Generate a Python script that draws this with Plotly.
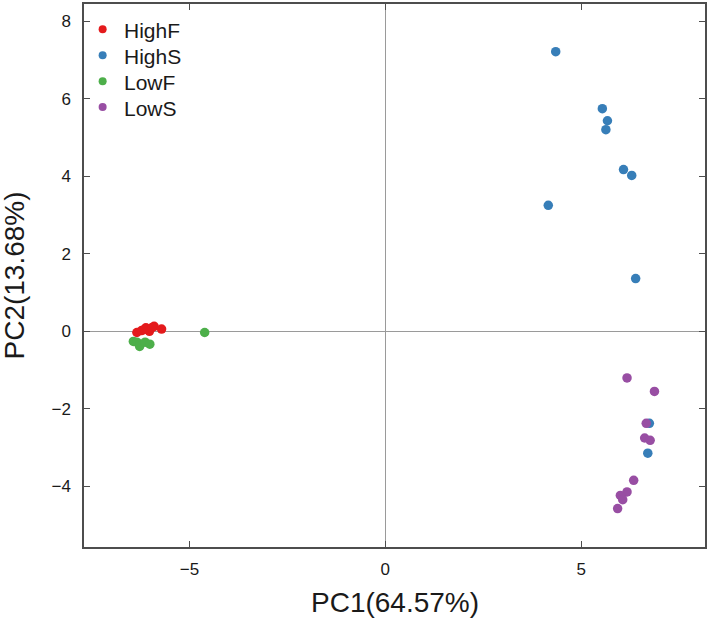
import plotly.graph_objects as go

# ---- data ----
groups = ["HighF", "HighS", "LowF", "LowS"]
colors = ["#E41A1C", "#377EB8", "#4DAF4A", "#984EA3"]

highf_x = [-6.34, -6.22, -6.11, -6.02, -5.90, -5.71, -6.15, -5.95]
highf_y = [-0.03, 0.02, 0.09, 0.00, 0.13, 0.06, 0.05, 0.10]

highs_x = [4.35, 5.54, 5.67, 5.63, 6.08, 6.29, 4.16, 6.39, 6.74, 6.70]
highs_y = [7.21, 5.74, 5.43, 5.20, 4.17, 4.02, 3.25, 1.36, -2.37, -3.14]

lowf_x = [-6.43, -6.34, -6.26, -6.27, -6.13, -6.01, -4.61]
lowf_y = [-0.26, -0.28, -0.33, -0.39, -0.28, -0.33, -0.03]

lows_x = [6.17, 6.87, 6.66, 6.62, 6.76, 6.34, 6.17, 6.00, 6.06, 5.93]
lows_y = [-1.20, -1.55, -2.37, -2.75, -2.81, -3.84, -4.14, -4.23, -4.34, -4.57]

x_ticks = [-5, 0, 5]
y_ticks = [-4, -2, 0, 2, 4, 6, 8]
x_title = "PC1(64.57%)"
y_title = "PC2(13.68%)"

series = [(highf_x, highf_y), (highs_x, highs_y), (lowf_x, lowf_y), (lows_x, lows_y)]

FONT = "Liberation Sans, Arial, sans-serif"
TXT = "#1a1a1a"

W, H = 709, 634
ML, MR, MT, MB = 84, 2, 3, 87
PW, PH = W - ML - MR, H - MT - MB

fig = go.Figure()
for name, col, (xs, ys) in zip(groups, colors, series):
    fig.add_trace(go.Scatter(
        x=xs, y=ys, mode="markers", name=name, showlegend=False,
        marker=dict(color=col, size=9.5, line=dict(width=0)),
    ))

axis_common = dict(
    showgrid=False,
    showline=True, linecolor="#4d4d4d", linewidth=1.5,
    mirror="ticks",
    ticks="inside", ticklen=6, tickwidth=1.2, tickcolor="#4d4d4d",
    zeroline=True, zerolinecolor="#9a9a9a", zerolinewidth=1,
    tickfont=dict(size=17, color=TXT, family=FONT),
)

fig.update_xaxes(range=[-7.69, 8.16], tickvals=x_ticks, ticklabelstandoff=6, **axis_common)
fig.update_yaxes(range=[-5.56, 8.44], tickvals=y_ticks, ticklabelstandoff=8, **axis_common)

fig.add_annotation(text=x_title, xref="paper", yref="paper", x=0.5, y=0,
                   yshift=-55, xanchor="center", yanchor="middle", showarrow=False,
                   font=dict(size=28, color=TXT, family=FONT))
fig.add_annotation(text=y_title, xref="paper", yref="paper", x=0, y=0.5,
                   xshift=-70, xanchor="center", yanchor="middle", showarrow=False,
                   textangle=-90,
                   font=dict(size=28, color=TXT, family=FONT))

# legend (top-left, inside the box), laid out like the reference
leg_marker_px = 102.7 - ML
leg_text_px = 122.5 - ML
leg_top_px = 28.3 - MT
leg_step_px = 26.0
for i, (name, col) in enumerate(zip(groups, colors)):
    yp = 1 - (leg_top_px + i * leg_step_px) / PH
    xm = leg_marker_px / PW
    fig.add_shape(type="circle", xref="paper", yref="paper",
                  xsizemode="pixel", ysizemode="pixel",
                  xanchor=xm, yanchor=yp, x0=-4, x1=4, y0=-4, y1=4,
                  fillcolor=col, line=dict(width=0))
    fig.add_annotation(text=name, xref="paper", yref="paper",
                       x=leg_text_px / PW, y=yp, yshift=-1,
                       xanchor="left", yanchor="middle", showarrow=False,
                       font=dict(size=21, color=TXT, family=FONT))

fig.update_layout(
    width=W, height=H,
    margin=dict(l=ML, r=MR, t=MT, b=MB, pad=0),
    paper_bgcolor="white", plot_bgcolor="white",
    font=dict(family=FONT, color=TXT),
    showlegend=False,
)

fig.write_html("out.html",
               config={"displayModeBar": False},
               post_script="document.body.style.margin='0';document.body.style.overflow='hidden';")
